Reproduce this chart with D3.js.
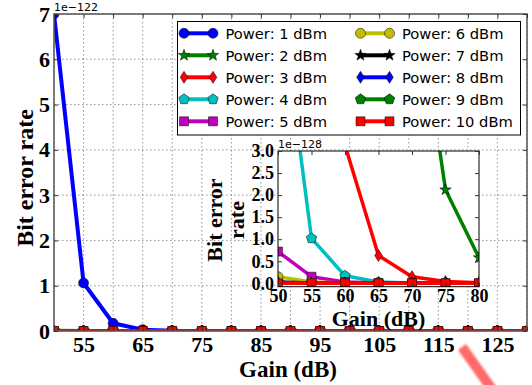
<!DOCTYPE html>
<html>
<head>
<meta charset="utf-8">
<script src="https://cdn.jsdelivr.net/npm/d3@7"></script>
<style>
body { margin: 0; background: #fff; }
</style>
</head>
<body>
<script>
// gain values on the x axis (dB)
const gains = [50, 55, 60, 65, 70, 75, 80, 85, 90, 95, 100, 105, 110, 115, 120, 125, 130];

// bit error rate per transmit power
const power1 = [7.0e-122, 1.06e-122, 1.7e-123, 3.0e-124, 5.5e-125, 1.0e-125, 1.9e-126, 3.5e-127, 6.5e-128, 1.2e-128, 2.3e-129, 4.3e-130, 8.1e-131, 1.5e-131, 2.9e-132, 5.4e-133, 1.0e-133];
const power2 = [6.0e-125, 1.0e-125, 1.6e-126, 2.6e-127, 7.3e-128, 2.12e-128, 5.8e-129, 1.6e-129, 4.4e-130, 1.2e-130, 3.3e-131, 9.0e-132, 2.5e-132, 6.8e-133, 1.9e-133, 5.1e-134, 1.4e-134];
const power3 = [8.0e-127, 1.6e-127, 3.13e-128, 6.3e-129, 1.5e-129, 4.0e-130, 1.5e-130, 4.1e-131, 1.1e-131, 3.1e-132, 8.5e-133, 2.3e-133, 6.4e-134, 1.8e-134, 4.8e-135, 1.3e-135, 3.6e-136];
const power4 = [6.85e-128, 1.02e-128, 1.7e-129, 3.0e-130, 5.5e-131, 1.0e-131, 1.9e-132, 3.5e-133, 6.5e-134, 1.2e-134, 2.2e-135, 4.1e-136, 7.6e-137, 1.4e-137, 2.6e-138, 4.8e-139, 8.9e-140];
const power5 = [7.2e-129, 1.5e-129, 2.8e-130, 5.0e-131, 9.2e-132, 1.7e-132, 3.1e-133, 5.8e-134, 1.1e-134, 2.0e-135, 3.7e-136, 6.8e-137, 1.3e-137, 2.3e-138, 4.3e-139, 8.0e-140, 1.5e-140];
const power6 = [1.5e-129, 3.0e-130, 5.5e-131, 1.0e-131, 1.9e-132, 3.5e-133, 6.4e-134, 1.2e-134, 2.2e-135, 4.0e-136, 7.4e-137, 1.4e-137, 2.5e-138, 4.7e-139, 8.6e-140, 1.6e-140, 2.9e-141];
const power7 = [3.0e-130, 6.0e-131, 1.1e-131, 2.0e-132, 3.8e-133, 7.0e-134, 1.3e-134, 2.4e-135, 4.4e-136, 8.0e-137, 1.5e-137, 2.7e-138, 5.0e-139, 9.3e-140, 1.7e-140, 3.2e-141, 5.9e-142];
const power8 = [6.0e-131, 1.2e-131, 2.2e-132, 4.0e-133, 7.5e-134, 1.4e-134, 2.6e-135, 4.8e-136, 8.8e-137, 1.6e-137, 3.0e-138, 5.5e-139, 1.0e-139, 1.9e-140, 3.4e-141, 6.3e-142, 1.2e-142];
const power9 = [1.2e-131, 2.4e-132, 4.4e-133, 8.1e-134, 1.5e-134, 2.8e-135, 5.1e-136, 9.5e-137, 1.8e-137, 3.2e-138, 6.0e-139, 1.1e-139, 2.0e-140, 3.8e-141, 6.9e-142, 1.3e-142, 2.4e-143];
const power10 = [2.4e-132, 4.8e-133, 8.8e-134, 1.6e-134, 3.0e-135, 5.5e-136, 1.0e-136, 1.9e-137, 3.5e-138, 6.5e-139, 1.2e-139, 2.2e-140, 4.1e-141, 7.5e-142, 1.4e-142, 2.6e-143, 4.7e-144];

const powerNames = ["Power: 1 dBm", "Power: 2 dBm", "Power: 3 dBm", "Power: 4 dBm", "Power: 5 dBm",
                    "Power: 6 dBm", "Power: 7 dBm", "Power: 8 dBm", "Power: 9 dBm", "Power: 10 dBm"];

// ticks
const mainXTicks = [50, 55, 60, 65, 70, 75, 80, 85, 90, 95, 100, 105, 110, 115, 120, 125, 130];
const mainXLabels = [55, 65, 75, 85, 95, 105, 115, 125];
const mainYTicks = [0, 1, 2, 3, 4, 5, 6, 7];
const insetXTicks = [50, 55, 60, 65, 70, 75, 80];
const insetYTicks = [0, 0.5, 1.0, 1.5, 2.0, 2.5, 3.0];

// styles (matplotlib classic colours)
const colors = ["#0000ff", "#008000", "#ff0000", "#00bfbf", "#bf00bf", "#bfbf00", "#000000", "#0000ff", "#008000", "#ff0000"];
const markers = ["circle", "star", "diamond", "pentagon", "square", "circle", "star", "diamond", "pentagon", "square"];

const allPowers = [power1, power2, power3, power4, power5, power6, power7, power8, power9, power10];
const series = allPowers.map((vals, i) => ({
    name: powerNames[i],
    color: colors[i],
    marker: markers[i],
    points: vals.map((v, j) => ({ g: gains[j], v: v }))
}));

const serif = "'Liberation Serif', 'Times New Roman', serif";
const sans = "'DejaVu Sans', sans-serif";

function markerD(kind) {
    const p = d3.path();
    if (kind === "circle") {
        p.arc(0, 0, 5, 0, 2 * Math.PI);
    } else if (kind === "square") {
        p.rect(-4.5, -4.5, 9, 9);
    } else if (kind === "diamond") {
        p.moveTo(0, -6); p.lineTo(3.8, 0); p.lineTo(0, 6); p.lineTo(-3.8, 0); p.closePath();
    } else if (kind === "pentagon") {
        for (let i = 0; i < 5; i++) {
            const a = -Math.PI / 2 + i * 2 * Math.PI / 5;
            if (i === 0) p.moveTo(5.5 * Math.cos(a), 5.5 * Math.sin(a));
            else p.lineTo(5.5 * Math.cos(a), 5.5 * Math.sin(a));
        }
        p.closePath();
    } else if (kind === "star") {
        for (let i = 0; i < 10; i++) {
            const a = -Math.PI / 2 + i * Math.PI / 5;
            const r = i % 2 === 0 ? 6 : 2.4;
            if (i === 0) p.moveTo(r * Math.cos(a), r * Math.sin(a));
            else p.lineTo(r * Math.cos(a), r * Math.sin(a));
        }
        p.closePath();
    }
    return p.toString();
}

const svg = d3.select("body").append("svg")
    .attr("width", 532)
    .attr("height", 385);

const defs = svg.append("defs");
defs.append("filter").attr("id", "soft")
    .append("feGaussianBlur").attr("stdDeviation", 0.8);

// ---------- main axes ----------
const x = d3.scaleLinear().domain([50, 130]).range([54, 527]);
const y = d3.scaleLinear().domain([0, 7e-122]).range([331, 14]);

const grid = svg.append("g")
    .attr("stroke", "#777")
    .attr("stroke-width", 0.8)
    .attr("stroke-dasharray", "1.5,2.5");
grid.selectAll(".vx")
    .data(mainXTicks)
    .enter()
    .append("line")
    .attr("x1", d => x(d)).attr("x2", d => x(d))
    .attr("y1", y(7e-122)).attr("y2", y(0));
grid.selectAll(".hy")
    .data(mainYTicks)
    .enter()
    .append("line")
    .attr("x1", x(50)).attr("x2", x(130))
    .attr("y1", d => y(d * 1e-122)).attr("y2", d => y(d * 1e-122));

defs.append("clipPath").attr("id", "clipMain")
    .append("rect")
    .attr("x", x(50)).attr("y", y(7e-122))
    .attr("width", x(130) - x(50)).attr("height", y(0) - y(7e-122));

function drawSeries(g, xs, ys, lw) {
    const line = d3.line().x(d => xs(d.g)).y(d => ys(d.v));
    series.forEach(s => {
        g.append("path")
            .datum(s.points)
            .attr("d", line)
            .attr("fill", "none")
            .attr("stroke", s.color)
            .attr("stroke-width", lw)
            .attr("stroke-linejoin", "round");
        g.selectAll(null)
            .data(s.points)
            .enter()
            .append("path")
            .attr("d", markerD(s.marker))
            .attr("transform", d => `translate(${xs(d.g)},${ys(d.v)})`)
            .attr("fill", s.color)
            .attr("stroke", "#000")
            .attr("stroke-width", 0.5);
    });
}

const plot = svg.append("g").attr("clip-path", "url(#clipMain)");
drawSeries(plot, x, y, 4);

// spines
svg.append("rect")
    .attr("x", x(50)).attr("y", y(7e-122))
    .attr("width", x(130) - x(50)).attr("height", y(0) - y(7e-122))
    .attr("fill", "none")
    .attr("stroke", "#555")
    .attr("stroke-width", 1.5);

function styleAxis(g, size) {
    g.select(".domain").remove();
    g.selectAll(".tick line").attr("stroke", "#333");
    g.selectAll("text")
        .attr("font-family", serif)
        .attr("font-weight", "bold")
        .attr("font-size", size)
        .attr("fill", "#000");
}

svg.append("g")
    .attr("transform", `translate(0,${y(0)})`)
    .call(d3.axisBottom(x).tickValues(mainXTicks).tickSize(-4).tickPadding(5)
        .tickFormat(d => mainXLabels.includes(d) ? d : ""))
    .call(g => styleAxis(g, "22px"));
svg.append("g")
    .attr("transform", `translate(0,${y(7e-122)})`)
    .call(d3.axisTop(x).tickValues(mainXTicks).tickSize(-4).tickFormat(""))
    .call(g => styleAxis(g, "22px"));
svg.append("g")
    .attr("transform", `translate(${x(50)},0)`)
    .call(d3.axisLeft(y).tickValues(mainYTicks.map(d => d * 1e-122)).tickSize(-4).tickPadding(4)
        .tickFormat(d => Math.round(d / 1e-122)))
    .call(g => styleAxis(g, "22px"));
svg.append("g")
    .attr("transform", `translate(${x(130)},0)`)
    .call(d3.axisRight(y).tickValues(mainYTicks.map(d => d * 1e-122)).tickSize(-4).tickFormat(""))
    .call(g => styleAxis(g, "22px"));

svg.append("text")
    .attr("x", 54).attr("y", 11)
    .attr("font-family", sans).attr("font-size", "11px")
    .text("1e\u2212122");

svg.append("text")
    .attr("transform", "translate(33,178) rotate(-90)")
    .attr("text-anchor", "middle")
    .attr("font-family", serif).attr("font-weight", "bold").attr("font-size", "24px")
    .text("Bit error rate");

svg.append("text")
    .attr("x", 288).attr("y", 377)
    .attr("text-anchor", "middle")
    .attr("font-family", serif).attr("font-weight", "bold").attr("font-size", "23px")
    .text("Gain (dB)");

// ---------- legend ----------
const legend = svg.append("g");
legend.append("rect")
    .attr("x", 177.5).attr("y", 21.5)
    .attr("width", 343).attr("height", 113.5)
    .attr("fill", "#fff")
    .attr("stroke", "#000")
    .attr("stroke-width", 1);

series.forEach((s, i) => {
    const col = Math.floor(i / 5), row = i % 5;
    const x0 = col === 0 ? 184 : 360.5;
    const cy = 33.3 + row * 22;
    const item = legend.append("g");
    item.append("line")
        .attr("x1", x0).attr("x2", x0 + 29)
        .attr("y1", cy).attr("y2", cy)
        .attr("stroke", s.color).attr("stroke-width", 4);
    [x0, x0 + 29].forEach(mx => {
        item.append("path")
            .attr("d", markerD(s.marker))
            .attr("transform", `translate(${mx},${cy})`)
            .attr("fill", s.color)
            .attr("stroke", "#000")
            .attr("stroke-width", 0.5);
    });
    item.append("text")
        .attr("x", x0 + 41.5).attr("y", cy + 5.3)
        .attr("font-family", sans).attr("font-size", "14.7px")
        .text(s.name);
});

// ---------- inset ----------
const xi = d3.scaleLinear().domain([50, 80]).range([278, 479]);
const yi = d3.scaleLinear().domain([-0.077e-128, 3e-128]).range([286.7, 151]);

svg.append("rect")
    .attr("x", 278).attr("y", 151)
    .attr("width", 201).attr("height", 135.7)
    .attr("fill", "#fff");

defs.append("clipPath").attr("id", "clipInset")
    .append("rect")
    .attr("x", 278).attr("y", 151)
    .attr("width", 201).attr("height", 135.7);

const inset = svg.append("g").attr("clip-path", "url(#clipInset)");
drawSeries(inset, xi, yi, 3.5);

svg.append("rect")
    .attr("x", 278).attr("y", 151)
    .attr("width", 201).attr("height", 135.7)
    .attr("fill", "none")
    .attr("stroke", "#000")
    .attr("stroke-width", 1);

svg.append("g")
    .attr("transform", "translate(0,286.7)")
    .call(d3.axisBottom(xi).tickValues(insetXTicks).tickSize(-4).tickPadding(3))
    .call(g => styleAxis(g, "18px"));
svg.append("g")
    .attr("transform", "translate(0,151)")
    .call(d3.axisTop(xi).tickValues(insetXTicks).tickSize(-4).tickFormat(""))
    .call(g => styleAxis(g, "18px"));
svg.append("g")
    .attr("transform", "translate(278,0)")
    .call(d3.axisLeft(yi).tickValues(insetYTicks.map(d => d * 1e-128)).tickSize(-4).tickPadding(4)
        .tickFormat(d => (d / 1e-128).toFixed(1)))
    .call(g => styleAxis(g, "18px"));
svg.append("g")
    .attr("transform", "translate(479,0)")
    .call(d3.axisRight(yi).tickValues(insetYTicks.map(d => d * 1e-128)).tickSize(-4).tickFormat(""))
    .call(g => styleAxis(g, "18px"));

svg.append("text")
    .attr("x", 278).attr("y", 148)
    .attr("font-family", sans).attr("font-size", "11px")
    .text("1e\u2212128");

svg.append("text")
    .attr("transform", "translate(221.5,220) rotate(-90)")
    .attr("text-anchor", "middle")
    .attr("font-family", serif).attr("font-weight", "bold").attr("font-size", "22px")
    .text("Bit error");
svg.append("text")
    .attr("transform", "translate(243.5,220) rotate(-90)")
    .attr("text-anchor", "middle")
    .attr("font-family", serif).attr("font-weight", "bold").attr("font-size", "22px")
    .text("rate");

svg.append("text")
    .attr("x", 378.5).attr("y", 326)
    .attr("text-anchor", "middle")
    .attr("font-family", serif).attr("font-weight", "bold").attr("font-size", "22px")
    .text("Gain (dB)");

// red annotation stroke in the lower right corner
svg.append("line")
    .attr("x1", 462).attr("y1", 347)
    .attr("x2", 494).attr("y2", 392)
    .attr("stroke", "#ff5a5a")
    .attr("stroke-width", 10)
    .attr("opacity", 0.9)
    .attr("filter", "url(#soft)");
</script>
</body>
</html>
